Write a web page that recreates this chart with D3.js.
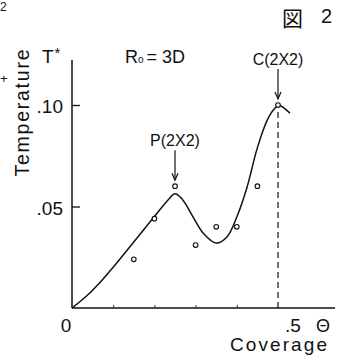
<!DOCTYPE html>
<html><head><meta charset="utf-8">
<script src="https://cdn.jsdelivr.net/npm/d3@7"></script>
<style>
html,body{margin:0;padding:0;background:#fff;}
svg{display:block;}
text{font-family:"Liberation Sans","DejaVu Sans",sans-serif;fill:#111;}
</style></head>
<body>
<svg id="chart" width="345" height="358"></svg>
<script>
// Data
const coverage = [0.15, 0.20, 0.25, 0.30, 0.35, 0.40, 0.45, 0.50];
const temperature = [0.024, 0.044, 0.060, 0.031, 0.040, 0.040, 0.060, 0.100];
const curveX = [0, 0.04, 0.075, 0.11, 0.148, 0.199, 0.232, 0.25, 0.268, 0.294, 0.318, 0.35, 0.376, 0.40, 0.425, 0.45, 0.475, 0.493, 0.503, 0.515, 0.529];
const curveY = [0, 0.0068, 0.0142, 0.0225, 0.032, 0.0448, 0.053, 0.0563, 0.0535, 0.0448, 0.037, 0.032, 0.035, 0.0448, 0.0596, 0.079, 0.093, 0.0985, 0.0998, 0.0985, 0.096];
const yTicks = [0.05, 0.10];
const yTickLabels = [".05", ".10"];
const xMinorTicks = [0.1, 0.2, 0.3, 0.4];
const annotations = [{label: "P(2X2)", x: 0.25, y: 0.060}, {label: "C(2X2)", x: 0.50, y: 0.100}];

const svg = d3.select("#chart");
const x = d3.scaleLinear().domain([0, 0.5]).range([72, 278]);
const y = d3.scaleLinear().domain([0, 0.10]).range([308, 105]);

// axes lines
svg.append("line").attr("x1", x(0)).attr("x2", 335).attr("y1", y(0)).attr("y2", y(0))
  .attr("stroke", "#111").attr("stroke-width", 1.5);
svg.append("line").attr("x1", x(0)).attr("x2", x(0)).attr("y1", y(0)).attr("y2", 60)
  .attr("stroke", "#111").attr("stroke-width", 1.5);

// y ticks (inward) via d3 axis
const yAxis = d3.axisRight(y).tickValues(yTicks).tickSize(8).tickFormat("");
const gy = svg.append("g").attr("transform", `translate(${x(0)},0)`).call(yAxis);
gy.select(".domain").remove();
gy.selectAll(".tick line").attr("stroke", "#111").attr("stroke-width", 1.3);

// x minor ticks (upward)
const xAxis = d3.axisTop(x).tickValues(xMinorTicks).tickSize(3).tickFormat("");
const gx = svg.append("g").attr("transform", `translate(0,${y(0)})`).call(xAxis);
gx.select(".domain").remove();
gx.selectAll(".tick line").attr("stroke", "#333").attr("stroke-width", 1);

// y tick labels
svg.selectAll(".ylab").data(yTicks).enter().append("text")
  .attr("x", 63).attr("y", d => y(d) + 8).attr("text-anchor", "end")
  .attr("font-size", 19).text((d, i) => yTickLabels[i]);

// x labels
svg.append("text").attr("x", 66).attr("y", 332).attr("text-anchor", "middle").attr("font-size", 19).text("0");
svg.append("text").attr("x", 285).attr("y", 332).attr("font-size", 19).text(".5");
svg.append("text").attr("x", 316).attr("y", 332).attr("font-size", 18).text("Θ");
svg.append("text").attr("x", 230).attr("y", 351).attr("font-size", 19)
  .attr("textLength", 97).attr("lengthAdjust", "spacing").text("Coverage");

// y title
svg.append("text").attr("transform", "translate(29,113) rotate(-90)").attr("text-anchor", "middle")
  .attr("font-size", 19.5).attr("textLength", 127).attr("lengthAdjust", "spacing").text("Temperature");
const ts = svg.append("text").attr("x", 42).attr("y", 63).attr("font-size", 19);
ts.append("tspan").text("T");
ts.append("tspan").attr("dx", 1).attr("dy", -5).attr("font-size", 15).text("*");

// R0 = 3D
const r0 = svg.append("text").attr("x", 125).attr("y", 63).attr("font-size", 18);
r0.append("tspan").text("R");
r0.append("tspan").attr("font-size", 10).text("o");
r0.append("tspan").attr("dx", 3).text("= 3D");

// dashed line at 0.5
svg.append("line").attr("x1", x(0.5)).attr("x2", x(0.5)).attr("y1", y(0.0965)).attr("y2", y(0))
  .attr("stroke", "#111").attr("stroke-width", 1.2).attr("stroke-dasharray", "6,4");

// curve
const curvePts = curveX.map((d, i) => [d, curveY[i]]);
svg.append("path").datum(curvePts)
  .attr("d", d3.line().x(d => x(d[0])).y(d => y(d[1])).curve(d3.curveCatmullRom.alpha(0.5)))
  .attr("fill", "none").attr("stroke", "#111").attr("stroke-width", 1.5);

// points
svg.selectAll(".pt").data(coverage).enter().append("circle")
  .attr("cx", d => x(d)).attr("cy", (d, i) => y(temperature[i])).attr("r", 2.3)
  .attr("fill", "#fff").attr("stroke", "#111").attr("stroke-width", 1.1);

// annotations with arrows
annotations.forEach(a => {
  const ax = x(a.x), ay = y(a.y);
  svg.append("text").attr("x", ax).attr("y", ay - 40)
    .attr("text-anchor", "middle").attr("font-size", 16).text(a.label);
  svg.append("line").attr("x1", ax).attr("x2", ax).attr("y1", ay - 36).attr("y2", ay - 7)
    .attr("stroke", "#111").attr("stroke-width", 1.2);
  svg.append("path").attr("d", `M${ax - 3},${ay - 13} L${ax},${ay - 6} L${ax + 3},${ay - 13}`)
    .attr("fill", "none").attr("stroke", "#111").attr("stroke-width", 1.2);
});

// page marks
svg.append("text").attr("x", 282).attr("y", 26).attr("font-size", 21)
  .style("font-family", "'Noto Sans CJK JP'").attr("fill", "#444").text("図");
svg.append("text").attr("x", 321).attr("y", 23).attr("font-size", 20).text("2");
svg.append("text").attr("x", 0).attr("y", 11).attr("font-size", 12).text("2");
svg.append("text").attr("x", 0).attr("y", 83).attr("font-size", 13).text("+");
</script>
</body></html>
